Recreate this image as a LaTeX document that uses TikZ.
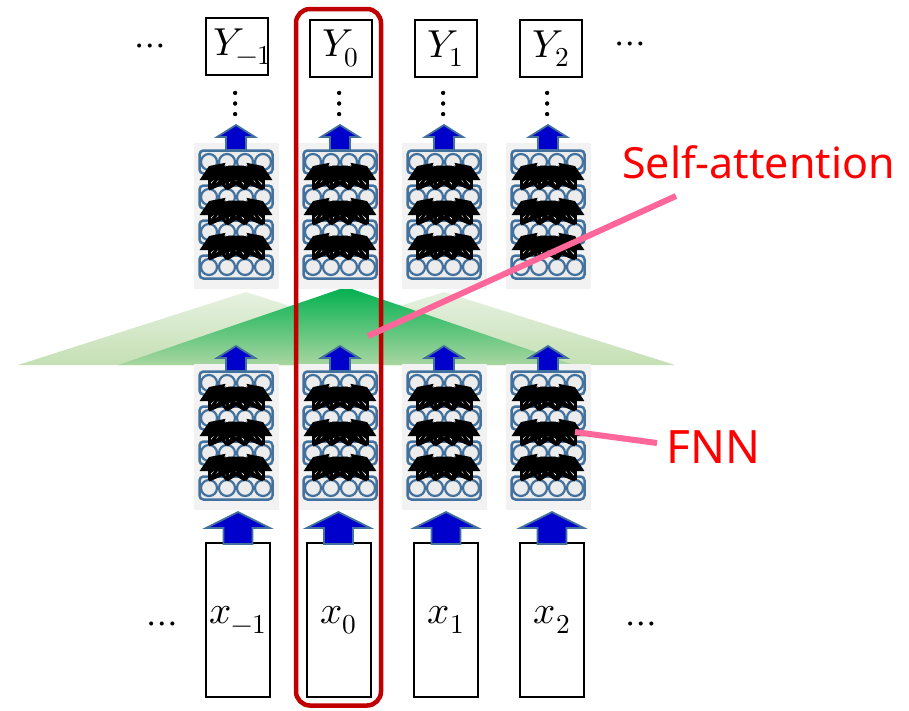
\documentclass[tikz,border=0pt]{standalone}
\usepackage{fontspec}
\usepackage{unicode-math}
\setmathfont{Latin Modern Math}
\newfontfamily\lblfont{Noto Sans}
\usetikzlibrary{arrows.meta}
\definecolor{bgGray}{RGB}{242,242,242}
\definecolor{circGray}{RGB}{236,236,236}
\definecolor{nnBlue}{RGB}{65,113,156}
\definecolor{arrBlue}{RGB}{0,0,204}
\definecolor{redC}{RGB}{192,0,0}
\definecolor{pinkC}{RGB}{255,102,153}
\definecolor{ltTop}{RGB}{230,241,224}
\definecolor{ltBot}{RGB}{197,224,180}
\definecolor{dkTop}{RGB}{0,176,80}
\definecolor{dkBot}{RGB}{169,214,160}
\begin{document}
\begin{tikzpicture}[x=1pt,y={(0pt,-1pt)},
  graybg/.style={fill=bgGray, draw=none, minimum width=85pt, minimum height=146pt, inner sep=0pt},
  layerbox/.style={draw=nnBlue, line width=2.5pt, rounded corners=4pt, fill=circGray, minimum width=73pt, minimum height=23pt, inner sep=0pt},
  neuron/.style={circle, draw=nnBlue, line width=2.2pt, fill=circGray, minimum size=16pt, inner sep=0pt},
  conn/.style={line width=3pt, black, -{Triangle[width=18pt,length=14pt]}},
  barrow/.style={fill=arrBlue, draw=nnBlue, line width=1.8pt, line join=miter},
  outbox/.style={draw=black, line width=2pt, fill=white, minimum width=62pt, minimum height=57pt, inner sep=0pt},
  inbox/.style={draw=black, line width=2pt, fill=white, minimum width=64pt, minimum height=154pt, inner sep=0pt},
  mathlbl/.style={font=\fontsize{39}{45}\selectfont, inner sep=0pt},
  dotlbl/.style={font=\fontsize{38}{44}\selectfont, inner sep=0pt},
  redlbl/.style={text=red, font=\lblfont\fontsize{43}{49}\selectfont, inner sep=0pt, anchor=west},
  pinkline/.style={draw=pinkC, line width=6pt}
]
\useasboundingbox (0,0) rectangle (909,710);

% self-attention triangles
\shade[top color=ltTop, bottom color=ltBot] (18,365) -- (246,292) -- (474,365) -- cycle;
\shade[top color=ltTop, bottom color=ltBot] (214,365) -- (444,292) -- (675,365) -- cycle;
\shade[top color=dkTop, bottom color=dkBot] (118,365) -- (346,287) -- (574,365) -- cycle;

% FNN blocks
\foreach \c/\n in {236/a,340/b,444/c,548/d}{
  \foreach \yo/\m in {0/u,221/l}{
    \node[graybg] (bg\n\m) at (\c,{216+\yo}) {};
    \foreach \k/\ly in {1/162,2/197,3/232,4/267}{
      \node[layerbox] (L\n\m\k) at (\c,{\ly+\yo}) {};
      \foreach \j/\dx in {1/-27,2/-9,3/9,4/27}
        \node[neuron] (N\n\m\k\j) at ({\c+\dx},{\ly+\yo}) {};
    }
    \foreach \k [evaluate=\k as \kk using int(\k+1)] in {1,2,3}{
      \foreach \i in {1,2,3,4}{
        \foreach \j in {1,2,3,4}
          \draw[conn] ([yshift=8pt]N\n\m\kk\j.center) -- ([yshift=-4pt]N\n\m\k\i.center);
      }
    }
    \draw[barrow] ({\c-10},{150+\yo}) -- ({\c-10},{137+\yo}) -- ({\c-19},{137+\yo}) -- (\c,{125+\yo})
      -- ({\c+19},{137+\yo}) -- ({\c+10},{137+\yo}) -- ({\c+10},{150+\yo}) -- cycle;
    \node[dotlbl] (vd\n) at (\c,104) {$\vdots$};
  }
}

% output boxes
\node[outbox] (ya) at (237,46.5) {};
\node[mathlbl] (tya) at ([xshift=6pt]ya.center) {$Y_{-1}$};
\node[outbox] (yb) at (340.5,48.5) {};
\node[mathlbl] (tyb) at (yb.center) {$Y_{0}$};
\node[outbox] (yc) at (445.5,48.5) {};
\node[mathlbl] (tyc) at (yc.center) {$Y_{1}$};
\node[outbox] (yd) at (551,48.5) {};
\node[mathlbl] (tyd) at (yd.center) {$Y_{2}$};
\node[dotlbl] (dtl) at (150,50) {$\cdots$};
\node[dotlbl] (dtr) at (630,48) {$\cdots$};

% input boxes
\foreach \cx/\n/\lab in {238/a/{-1},338.5/b/0,446/c/1,552/d/2}{
  \node[inbox] (x\n) at (\cx,620) {};
  \node[mathlbl] (tx\n) at (x\n.center) {$x_{\lab}$};
  \draw[barrow] ({\cx-14.5},544) -- ({\cx-14.5},528) -- ({\cx-32},528) -- (\cx,512)
    -- ({\cx+32},528) -- ({\cx+14.5},528) -- ({\cx+14.5},544) -- cycle;
}
\node[dotlbl] (dbl) at (162,628) {$\cdots$};
\node[dotlbl] (dbr) at (641,628) {$\cdots$};

% highlight
\draw[redC, line width=4.5pt, rounded corners=14pt] (296,9) rectangle (381,705.5);

% labels
\node[redlbl] (sa) at (622,162) {Self-attention};
\node[redlbl, font=\lblfont\fontsize{46}{52}\selectfont] (fnn) at (666,447) {FNN};
\coordinate (saA) at (676,196);
\coordinate (saB) at (368,336);
\coordinate (fnA) at (657,443);
\coordinate (fnB) at (575,432);
\draw[pinkline] (saA) -- (saB);
\draw[pinkline] (fnA) -- (fnB);
\end{tikzpicture}
\end{document}
